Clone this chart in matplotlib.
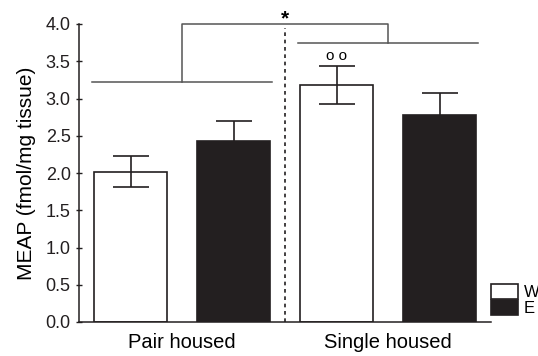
import numpy as np
import matplotlib
matplotlib.use('Agg')
import matplotlib.pyplot as plt
from matplotlib.patches import Patch

plt.rcParams['font.family'] = ['Liberation Sans', 'DejaVu Sans']

# Data
groups   = ['Pair housed', 'Single housed']
w_means  = [2.02, 3.18]
w_err    = [0.21, 0.26]
e_means  = [2.43, 2.78]
e_err    = [0.27, 0.29]
yticks   = [0.0, 0.5, 1.0, 1.5, 2.0, 2.5, 3.0, 3.5, 4.0]

dark = '#231f20'
grey = '#555555'

fig = plt.figure(figsize=(5.38, 3.56), dpi=100)
ax = fig.add_axes([79/538, 1 - 322/356, 412/538, 298/356])

w_pos = np.array([0, 2])
e_pos = np.array([1, 3])
width = 0.71

ax.bar(w_pos, w_means, width, color='white', edgecolor=dark, linewidth=1.2, zorder=2)
ax.bar(e_pos, e_means, width, color=dark, edgecolor=dark, linewidth=1.2, zorder=2)
ax.errorbar(w_pos, w_means, yerr=w_err, fmt='none', ecolor=dark, elinewidth=1.2,
            capsize=13, capthick=1.2, zorder=3)
ax.errorbar(e_pos, e_means, yerr=e_err, fmt='none', ecolor=dark, elinewidth=1.2,
            capsize=13, capthick=1.2, zorder=1)

# separator
ax.plot([1.5, 1.5], [0, 3.95], color=dark, lw=1.2, ls=(0, (2.2, 2.2)), zorder=1)

# brackets
ax.plot([-0.37, 1.37], [3.22, 3.22], color=grey, lw=1.1, clip_on=False)
ax.plot([0.5, 0.5, 2.5, 2.5], [3.22, 4.0, 4.0, 3.75], color=grey, lw=1.1, clip_on=False)
ax.plot([1.63, 3.37], [3.75, 3.75], color=grey, lw=1.1, clip_on=False)
ax.text(1.5, 4.0, '*', ha='center', va='baseline', fontsize=15, fontweight='bold')
ax.text(2.0, 3.57, 'o o', ha='center', va='center', fontsize=11)

ax.set_xlim(-0.5, 3.5)
ax.set_ylim(0, 4.0)
ax.set_yticks(yticks)
ax.set_yticklabels([f'{t:.1f}' for t in yticks])
ax.set_xticks([0.5, 2.5])
ax.set_xticklabels(groups, fontsize=14.5)
ax.tick_params(axis='x', length=0, pad=8)
ax.tick_params(axis='y', direction='inout', length=5, width=1, labelsize=13, colors=dark)
ax.set_ylabel('MEAP (fmol/mg tissue)', fontsize=15, labelpad=7)

for s in ['top', 'right']:
    ax.spines[s].set_visible(False)
for s in ['left', 'bottom']:
    ax.spines[s].set_color(dark)
    ax.spines[s].set_linewidth(1.1)

handles = [Patch(facecolor='white', edgecolor=dark, linewidth=1.2),
           Patch(facecolor=dark, edgecolor=dark, linewidth=1.2)]
ax.legend(handles, ['W', 'E'], loc='lower left', bbox_to_anchor=(1.0, 0.02),
          frameon=False, fontsize=12, handlelength=1.6, handleheight=1.0,
          labelspacing=0.0, handletextpad=0.35, borderpad=0, borderaxespad=0)

fig.savefig('out.png', dpi=100)
